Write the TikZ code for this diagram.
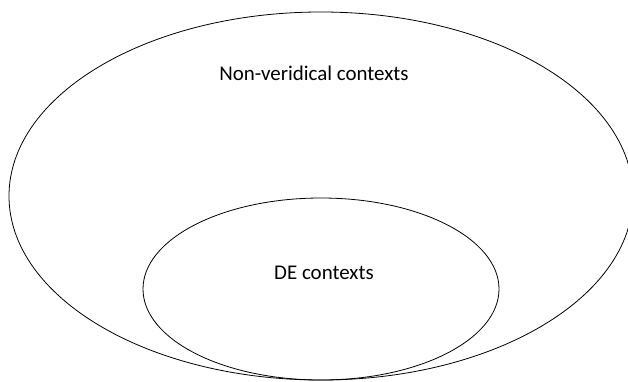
\documentclass[tikz,border=0pt]{standalone}
\usepackage{fontspec}
\setmainfont{Carlito}
\usepackage{tikz}
\usetikzlibrary{calc}

\begin{document}
\begin{tikzpicture}[x=1bp,y=1bp,line width=0.8pt]
	\useasboundingbox (0,0) rectangle (628,381);
	\def\cx{321} % center x of both sets
	
	% outer set
	\coordinate (NV) at (\cx,185);
	\draw (NV) ellipse (312 and 184);
	
	% inner set, touching at the bottom
	\coordinate (DE) at (\cx,92);
	\draw (DE) ellipse (178 and 91);
	
	% labels
	\node[font=\fontsize{21}{25}\selectfont] (nvlabel) at (314,308) {Non-veridical contexts};
	\node[font=\fontsize{21}{25}\selectfont] (delabel) at (324,108) {DE contexts};
\end{tikzpicture}
\end{document}
